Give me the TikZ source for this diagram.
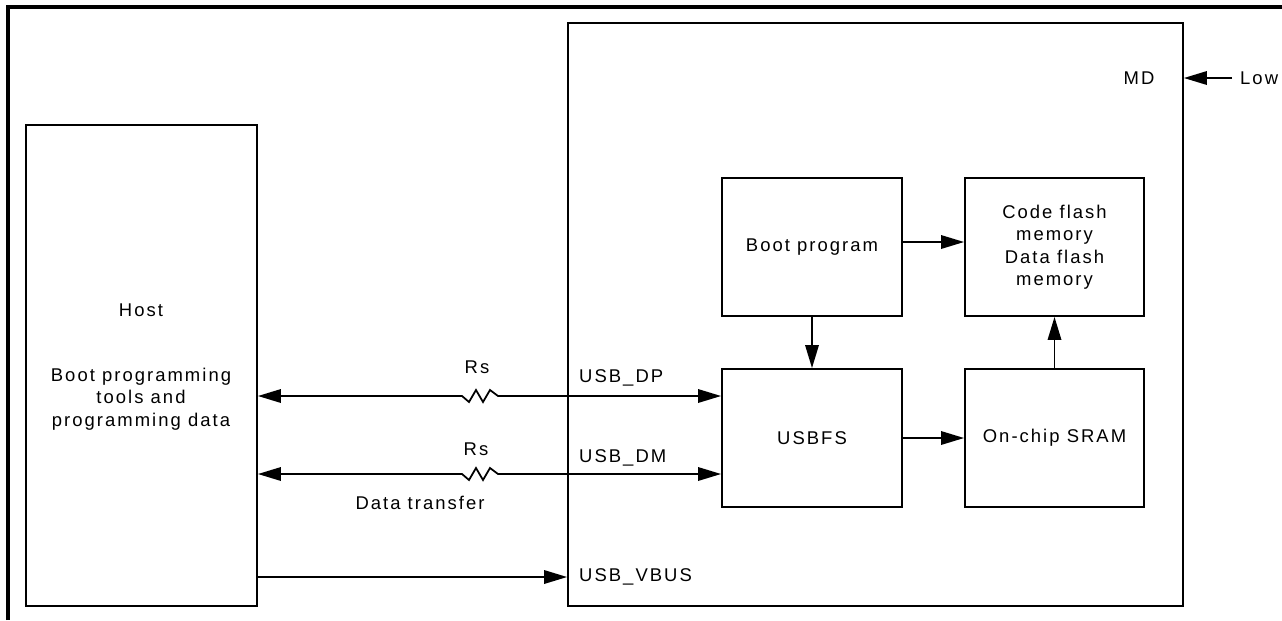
\documentclass[tikz,border=0pt]{standalone}
\usepackage{fontspec}
\setmainfont[LetterSpace=11]{Liberation Sans}
\usetikzlibrary{arrows.meta}

\begin{document}
\begin{tikzpicture}[x=0.02cm, y=-0.02cm,
    font=\fontsize{10.5}{12.8}\selectfont,
    block/.style={draw, line width=1.1pt, inner sep=0pt, align=center},
    arr/.style={line width=1pt, -{Triangle[length=0.46cm,width=0.27cm]}},
    darr/.style={line width=1pt, {Triangle[length=0.46cm,width=0.27cm]}-{Triangle[length=0.46cm,width=0.27cm]}}]
    \useasboundingbox (0,0) rectangle (1282,620);
    % page frame
    \draw[line width=2pt] (8,620) -- (8,7) -- (1282,7);

    % host side
    \node[block, minimum width=4.62cm, minimum height=9.62cm] (host) at (141.5,365.5) {};
    \node (hostname) at (141,310) {Host};
    \node[align=center] (hosttools) at (141,399) {Boot programming\\tools and\\programming data};

    % chip side
    \node[block, minimum width=12.3cm, minimum height=11.66cm] (chip) at (875.5,314.5) {};
    \node (md) at (1139,78) {MD};
    \node[block, minimum width=3.6cm, minimum height=2.76cm] (boot) at (812,247) {Boot program};
    \node[block, minimum width=3.58cm, minimum height=2.76cm] (flash) at (1054.5,247) {Code flash\\memory\\Data flash\\memory};
    \node[block, minimum width=3.6cm, minimum height=2.76cm] (usbfs) at (812,438) {USBFS};
    \node[block, minimum width=3.58cm, minimum height=2.76cm] (sram) at (1054.5,438) {On-chip SRAM};

    \draw[arr] ([yshift=0.1cm]boot.east) -- ([yshift=0.1cm]flash.west);
    \draw[arr] (boot.south) -- (usbfs.north);
    \draw[arr] (usbfs.east) -- (sram.west);
    \draw[arr] (sram.north) -- (flash.south);

    % mode pin
    \coordinate (lowend) at (1232,78);
    \draw[arr] (lowend) -- (chip.east |- lowend);
    \node[anchor=west] (low) at (1234,78) {Low};

    % usb lines with series resistors
    \coordinate (dp) at (462,396);
    \coordinate (dm) at (462,474);
    \draw[darr] (host.east |- dp) -- (dp) -- ++(7,6) -- ++(7,-12) -- ++(7,12) -- ++(7,-12) -- ++(8,6) -- (usbfs.west |- dp);
    \draw[darr] (host.east |- dm) -- (dm) -- ++(7,6) -- ++(7,-12) -- ++(7,12) -- ++(7,-12) -- ++(8,6) -- (usbfs.west |- dm);
    \node (rdp) at (477,367) {Rs};
    \node (rdm) at (476,449) {Rs};
    \node[anchor=west] (dplabel) at (573,378) {USB\_DP};
    \node[anchor=west] (dmlabel) at (573,458) {USB\_DM};
    \node (xfer) at (420,503) {Data transfer};

    % bus power
    \coordinate (vbus) at (257,577);
    \draw[arr] (host.east |- vbus) -- (chip.west |- vbus);
    \node[anchor=west] (vbuslabel) at (573,577) {USB\_VBUS};
\end{tikzpicture}
\end{document}
